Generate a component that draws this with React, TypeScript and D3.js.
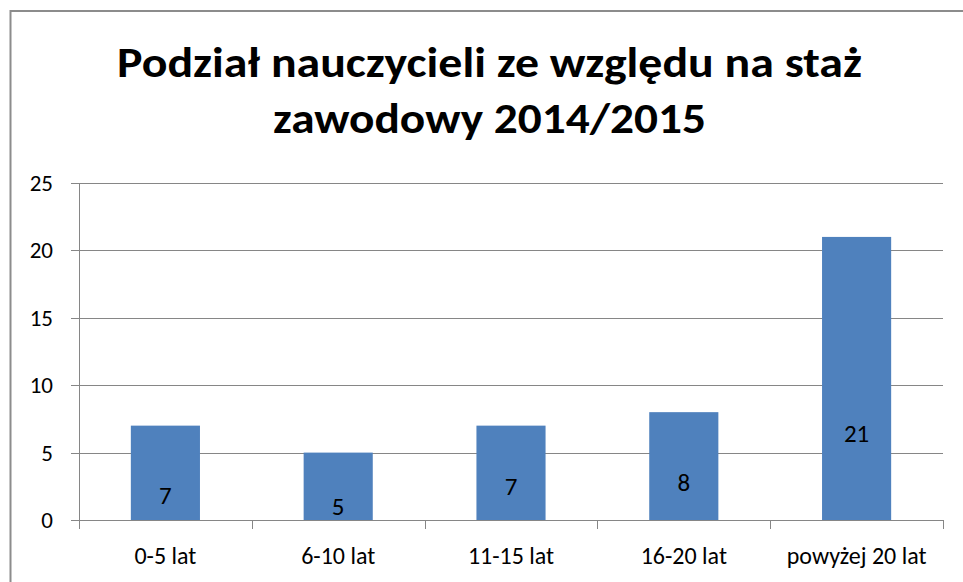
import React from "react";
import * as d3 from "d3";

const categories = ["0-5 lat", "6-10 lat", "11-15 lat", "16-20 lat", "powyżej 20 lat"];
const values = [7, 5, 7, 8, 21];
// vertical anchor of each value label, in data units
const labelAt = [1.8, 1.0, 2.45, 2.8, 6.4];
const yTicks = [0, 5, 10, 15, 20, 25];
const titleLines = ["Podział nauczycieli ze względu na staż", "zawodowy 2014/2015"];

const W = 963;
const H = 582;
const FONT = "Carlito, Calibri, Lato, 'Open Sans', sans-serif";

export default function App() {
  const left = 79;
  const right = 943;
  const top = 183;
  const bottom = 520;

  const x = d3.scaleBand<string>().domain(categories).range([left, right]).paddingInner(0.6).paddingOuter(0.3);
  const xb = d3.scaleBand<string>().domain(categories).range([left, right]).padding(0);
  const y = d3.scaleLinear().domain([0, 25]).range([bottom, top]);

  const grid = "#868686";
  const bounds = [...categories.map((c) => xb(c) as number), right];

  return (
    <svg width={W} height={H} style={{ position: "absolute", left: 0, top: 0, background: "#fff" }}>
      <rect x={0} y={0} width={W} height={H} fill="#fff" />
      <rect x={10.5} y={11} width={958} height={590} fill="#fff" stroke="#8c8c8c" strokeWidth={2} />
      {titleLines.map((t, i) => (
        <text
          key={i}
          x={489.5}
          y={i === 0 ? 77 : 133}
          textAnchor="middle"
          fontFamily={FONT}
          fontWeight="bold"
          fontSize={42}
          fill="#000"
          textLength={i === 0 ? 745 : 433}
          lengthAdjust="spacingAndGlyphs"
        >
          {t}
        </text>
      ))}
      {yTicks.map((t) => (
        <g key={t}>
          <line x1={71} x2={right} y1={Math.round(y(t)) + 0.5} y2={Math.round(y(t)) + 0.5} stroke={grid} strokeWidth={1} />
          <text
            x={53}
            y={y(t)}
            textAnchor="end"
            dominantBaseline="central"
            fontFamily={FONT}
            fontSize={23}
            fill="#000"
          >
            {t}
          </text>
        </g>
      ))}
      <line x1={left + 0.5} x2={left + 0.5} y1={top} y2={bottom + 9} stroke={grid} strokeWidth={1} />
      {bounds.map((b, i) => (
        <line key={i} x1={Math.round(b) + 0.5} x2={Math.round(b) + 0.5} y1={bottom} y2={bottom + 9} stroke={grid} strokeWidth={1} />
      ))}
      {categories.map((c, i) => (
        <g key={c}>
          <rect x={x(c)} y={y(values[i])} width={x.bandwidth()} height={y(0) - y(values[i])} fill="#4f81bd" />
          <text
            x={(x(c) as number) + x.bandwidth() / 2}
            y={y(labelAt[i])}
            textAnchor="middle"
            dominantBaseline="central"
            fontFamily={FONT}
            fontSize={25}
            fill="#000"
          >
            {values[i]}
          </text>
          <text
            x={(x(c) as number) + x.bandwidth() / 2}
            y={564}
            textAnchor="middle"
            fontFamily={FONT}
            fontSize={24}
            fill="#000"
          >
            {c}
          </text>
        </g>
      ))}
    </svg>
  );
}
